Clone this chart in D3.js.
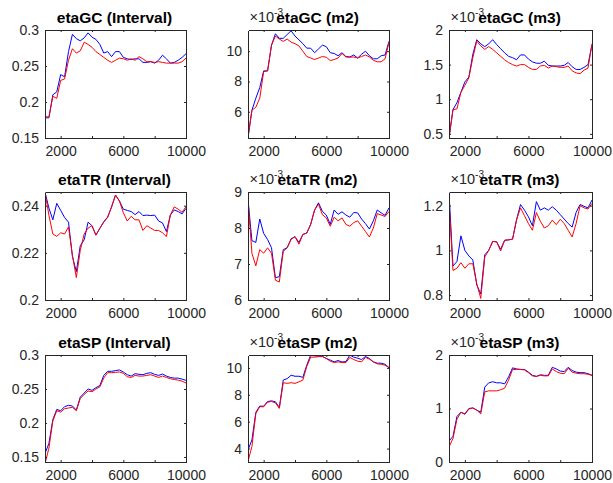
<!DOCTYPE html>
<html><head><meta charset="utf-8">
<script src="https://cdn.jsdelivr.net/npm/d3@7"></script>
<style>
body{margin:0;background:#fff}
text{font-family:"Liberation Sans",Arial,Helvetica,sans-serif}
</style></head>
<body><svg id="c" width="613" height="483"></svg>
<script>
// ---------- data ----------
const steps = [1000,1250,1500,1750,2000,2250,2500,2750,3000,3250,3500,3750,4000,4250,4500,4750,5000,5250,5500,5750,6000,6250,6500,6750,7000,7250,7500,7750,8000,8250,8500,8750,9000,9250,9500,9750,10000];
const xTicks = [2000,4000,6000,8000,10000];
const xTickLabels = ["2000","","6000","","10000"];

const titles = ["etaGC (Interval)","etaGC (m2)","etaGC (m3)","etaTR (Interval)","etaTR (m2)","etaTR (m3)","etaSP (Interval)","etaSP (m2)","etaSP (m3)"];
const exponents = ["","-3","-3","","-3","-3","","-3","-3"];

const gcIntBlue = [0.178,0.178,0.21,0.214,0.238,0.235,0.27,0.294,0.288,0.285,0.289,0.296,0.29,0.287,0.28,0.268,0.27,0.263,0.27,0.27,0.262,0.26,0.259,0.26,0.26,0.255,0.255,0.256,0.254,0.258,0.265,0.26,0.254,0.255,0.258,0.262,0.267];
const gcIntRed  = [0.18,0.179,0.208,0.205,0.23,0.232,0.258,0.274,0.268,0.271,0.283,0.28,0.276,0.27,0.266,0.262,0.258,0.255,0.258,0.261,0.26,0.258,0.26,0.258,0.263,0.26,0.256,0.256,0.255,0.256,0.255,0.254,0.254,0.254,0.254,0.256,0.261];
const gcM2Blue  = [4.3,6.1,6.9,7.6,8.7,8.7,10.4,11.15,10.85,10.85,11.1,11.35,11.0,10.75,10.5,10.2,10.2,9.9,10.15,10.4,10.3,9.9,9.85,9.7,9.9,9.65,9.62,9.75,9.55,9.8,10.0,9.7,9.5,9.5,9.7,9.75,10.65];
const gcM2Red   = [4.3,6.1,6.3,6.9,8.65,8.7,10.4,11.0,10.8,10.65,10.8,10.6,10.5,10.35,10.0,9.65,9.55,9.45,9.55,9.65,9.6,9.38,9.45,9.55,9.85,9.62,9.6,9.62,9.55,9.65,9.75,9.62,9.4,9.3,9.3,9.5,10.6];
const gcM3Blue  = [0.44,0.85,0.95,1.1,1.25,1.32,1.65,1.86,1.8,1.76,1.8,1.86,1.79,1.73,1.67,1.62,1.6,1.57,1.64,1.64,1.58,1.54,1.52,1.52,1.55,1.49,1.48,1.48,1.48,1.49,1.53,1.47,1.43,1.43,1.46,1.5,1.79];
const gcM3Red   = [0.44,0.85,0.86,1.1,1.2,1.31,1.6,1.84,1.77,1.72,1.76,1.72,1.67,1.62,1.57,1.53,1.5,1.48,1.5,1.5,1.46,1.43,1.43,1.48,1.49,1.45,1.48,1.47,1.46,1.46,1.48,1.41,1.38,1.37,1.42,1.45,1.8];
const trIntBlue = [0.2457,0.239,0.234,0.241,0.238,0.235,0.233,0.2185,0.212,0.223,0.2255,0.233,0.2315,0.2275,0.2304,0.2332,0.2352,0.2395,0.2445,0.242,0.2385,0.238,0.2375,0.2362,0.2375,0.2358,0.236,0.2358,0.236,0.2335,0.2327,0.229,0.236,0.2382,0.2375,0.2365,0.2389];
const trIntRed  = [0.2457,0.236,0.228,0.227,0.2285,0.228,0.231,0.219,0.2095,0.221,0.228,0.2305,0.2315,0.2275,0.2304,0.233,0.235,0.2395,0.2445,0.242,0.237,0.2335,0.2355,0.234,0.234,0.2295,0.2315,0.2305,0.2295,0.2295,0.2285,0.2269,0.236,0.2395,0.2385,0.2372,0.2396];
const trM2Blue  = [8.79,7.65,7.6,8.25,7.85,7.68,7.45,6.62,6.65,7.4,7.45,7.7,7.76,7.6,7.82,7.86,8.1,8.5,8.7,8.46,8.36,8.1,8.5,8.38,8.45,8.36,8.3,8.43,8.42,8.25,8.12,7.97,8.2,8.5,8.42,8.35,8.56];
const trM2Red   = [8.79,7.3,6.95,7.4,7.3,7.45,7.3,6.55,6.5,7.35,7.45,7.68,7.76,7.55,7.82,7.86,8.1,8.5,8.66,8.37,8.28,8.05,8.3,8.2,8.28,8.1,8.05,8.15,8.2,8.05,7.9,7.75,8.0,8.4,8.36,8.32,8.46];
const trM3Blue  = [1.26,0.93,0.95,1.065,1.0,0.975,0.957,0.845,0.805,0.98,1.0,1.04,1.038,1.005,1.045,1.047,1.05,1.136,1.205,1.18,1.15,1.11,1.218,1.18,1.19,1.18,1.195,1.18,1.16,1.14,1.12,1.104,1.17,1.205,1.197,1.19,1.225];
const trM3Red   = [1.22,0.91,0.92,0.945,0.92,0.94,0.94,0.85,0.785,0.97,1.0,1.04,1.038,0.997,1.045,1.047,1.05,1.136,1.19,1.155,1.12,1.09,1.169,1.13,1.1,1.11,1.135,1.115,1.139,1.12,1.09,1.06,1.12,1.2,1.19,1.185,1.21];
const spIntBlue = [0.155,0.17,0.205,0.22,0.218,0.224,0.226,0.225,0.219,0.238,0.244,0.25,0.248,0.252,0.255,0.27,0.276,0.276,0.277,0.278,0.275,0.271,0.269,0.2725,0.2716,0.271,0.273,0.274,0.2715,0.27,0.272,0.269,0.267,0.266,0.266,0.2645,0.2627];
const spIntRed  = [0.14,0.163,0.203,0.218,0.216,0.221,0.222,0.223,0.218,0.236,0.242,0.247,0.246,0.25,0.253,0.266,0.274,0.274,0.2745,0.275,0.273,0.268,0.267,0.27,0.269,0.269,0.27,0.271,0.269,0.267,0.269,0.267,0.265,0.264,0.263,0.2615,0.2588];
const spM2Blue  = [3.9,4.64,6.7,7.16,7.15,7.5,7.55,7.48,7.06,9.1,9.2,9.45,9.38,9.38,9.3,10.2,10.95,10.9,10.88,10.86,10.7,10.58,10.45,10.55,10.44,10.47,10.95,10.8,10.72,10.62,10.85,10.7,10.45,10.35,10.35,10.27,10.02];
const spM2Red   = [3.04,4.15,6.6,7.12,7.1,7.45,7.5,7.4,6.99,8.9,8.85,8.9,8.85,8.96,9.09,10.1,10.8,10.8,10.84,10.84,10.7,10.5,10.4,10.45,10.4,10.4,10.78,10.62,10.5,10.45,10.78,10.65,10.45,10.3,10.27,10.2,10.02];
const spM3Blue  = [0.39,0.48,0.85,0.93,0.9,1.0,1.01,0.97,0.93,1.4,1.48,1.5,1.48,1.48,1.46,1.59,1.76,1.74,1.73,1.73,1.68,1.62,1.6,1.63,1.62,1.62,1.77,1.74,1.7,1.69,1.77,1.71,1.68,1.67,1.67,1.65,1.62];
const spM3Red   = [0.28,0.44,0.8,0.93,0.89,0.99,1.01,0.97,0.9,1.31,1.33,1.33,1.33,1.35,1.38,1.53,1.73,1.73,1.73,1.72,1.67,1.61,1.6,1.62,1.61,1.61,1.74,1.69,1.66,1.65,1.75,1.68,1.66,1.65,1.65,1.64,1.62];

const blueSeries = [gcIntBlue,gcM2Blue,gcM3Blue,trIntBlue,trM2Blue,trM3Blue,spIntBlue,spM2Blue,spM3Blue];
const redSeries  = [gcIntRed,gcM2Red,gcM3Red,trIntRed,trM2Red,trM3Red,spIntRed,spM2Red,spM3Red];

const yLimits = [[0.15,0.3],[4.27,11.4],[0.44,2],[0.2,0.2458],[6,9],[0.778,1.261],[0.1426,0.3],[3.0,10.96],[0,2]];
const yTicks = [[0.15,0.2,0.25,0.3],[6,8,10],[0.5,1,1.5,2],[0.2,0.22,0.24],[6,7,8,9],[0.8,1,1.2],[0.15,0.2,0.25,0.3],[4,6,8,10],[0,1,2]];
const yTickLabels = [["0.15","0.2","0.25","0.3"],["6","8","10"],["0.5","1","1.5","2"],["0.2","0.22","0.24"],["6","7","8","9"],["0.8","1","1.2"],["0.15","0.2","0.25","0.3"],["4","6","8","10"],["0","1","2"]];

// ---------- layout ----------
const colL = [45,248,449], colR = [186,389,592];
const rowT = [30,192,355], rowB = [138,300,462];
const ink = "#262626";

const svg = d3.select("#c");
svg.append("rect").attr("width",613).attr("height",483).attr("fill","#fff");

titles.forEach((title,i)=>{
  const r = Math.floor(i/3), c = i%3;
  const x0 = colL[c], y0 = rowT[r], w = colR[c]-colL[c], h = rowB[r]-rowT[r];
  const g = svg.append("g").attr("transform",`translate(${x0},${y0})`);
  const x = d3.scaleLinear().domain([1000,10000]).range([0,w]);
  const y = d3.scaleLinear().domain(yLimits[i]).range([h,0]);

  g.append("clipPath").attr("id","clip"+i).append("rect").attr("width",w).attr("height",h);

  const line = d3.line().x((d,j)=>x(steps[j])).y(d=>y(d));
  const lines = g.append("g").attr("clip-path",`url(#clip${i})`);
  lines.append("path").datum(blueSeries[i]).attr("d",line).attr("fill","none").attr("stroke","#0000ff").attr("stroke-width",1).attr("stroke-linejoin","round");
  lines.append("path").datum(redSeries[i]).attr("d",line).attr("fill","none").attr("stroke","#ff0000").attr("stroke-width",1).attr("stroke-linejoin","round");

  const yl = yTickLabels[i];
  const fmtY = v => yl[yTicks[i].indexOf(v)];
  const fmtX = v => xTickLabels[xTicks.indexOf(v)];

  const styleAxis = sel => {
    sel.selectAll(".domain").attr("stroke",ink).attr("stroke-width",1).attr("shape-rendering","crispEdges");
    sel.selectAll(".tick line").attr("stroke",ink).attr("stroke-width",1);
    sel.selectAll("text").attr("fill",ink).style("font-size","14px").style("font-family",'"Liberation Sans",Arial,sans-serif');
  };

  g.append("g").call(d3.axisLeft(y).tickValues(yTicks[i]).tickFormat(fmtY).tickSize(-2).tickSizeOuter(0).tickPadding(6)).call(styleAxis);
  g.append("g").attr("transform",`translate(${w},0)`).call(d3.axisRight(y).tickValues(yTicks[i]).tickFormat("").tickSize(-2).tickSizeOuter(0)).call(styleAxis);
  g.append("g").attr("transform",`translate(0,${h})`).call(d3.axisBottom(x).tickValues(xTicks).tickFormat(fmtX).tickSize(-2).tickSizeOuter(0).tickPadding(8.5)).call(styleAxis);
  g.append("g").call(d3.axisTop(x).tickValues(xTicks).tickFormat("").tickSize(-2).tickSizeOuter(0)).call(styleAxis);

  if (exponents[i]) {
    const t = g.append("text").attr("x",1.5).attr("y",-8).attr("fill",ink).style("font-size","14.5px");
    t.append("tspan").text("×10");
    t.append("tspan").attr("dy",-6).style("font-size","10px").text(exponents[i]);
  }

  g.append("text").attr("x",w/2 - 1).attr("y",-7.5).attr("text-anchor","middle")
    .attr("fill","#000").style("font-size","15.5px").style("font-weight","bold").text(title);
});
</script>
</body></html>
